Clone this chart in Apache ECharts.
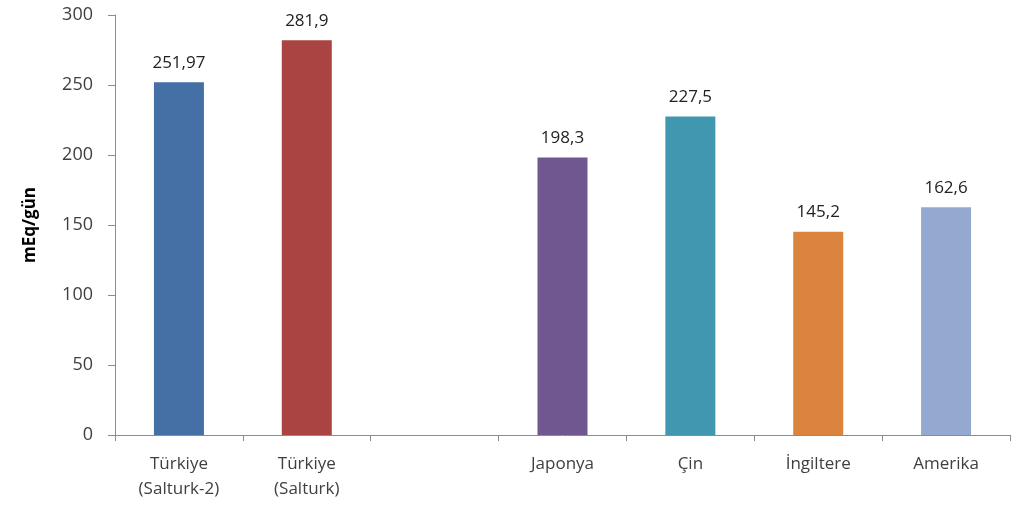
<!DOCTYPE html>
<html>
<head>
<meta charset="utf-8">
<script src="https://cdn.jsdelivr.net/npm/echarts@6/dist/echarts.min.js"></script>
<style>html,body{margin:0;padding:0;background:#fff}#c{width:1031px;height:507px}</style>
</head>
<body>
<div id="c"></div>
<script>
const categories = ['Türkiye\n(Salturk-2)', 'Türkiye\n(Salturk)', '', 'Japonya', 'Çin', 'İngiltere', 'Amerika'];
const values = [251.97, 281.9, null, 198.3, 227.5, 145.2, 162.6];
const yTicks = [0, 50, 100, 150, 200, 250, 300];
const yAxisTitle = 'mEq/gün';

const palette = ['#4470A6', '#A94442', '', '#71578F', '#4197AF', '#DB843D', '#93A9CF'];
const font = 'Open Sans, Noto Sans, sans-serif';

const chart = echarts.init(document.getElementById('c'), null, {renderer: 'canvas'});
chart.setOption({
  animation: false,
  grid: {left: 115, right: 21, top: 15, bottom: 72},
  xAxis: {
    type: 'category',
    data: categories,
    axisLine: {lineStyle: {color: '#8c8c8c', width: 1}},
    axisTick: {show: true, length: 6, lineStyle: {color: '#8c8c8c'}},
    axisLabel: {color: '#404040', fontSize: 17, fontFamily: font, lineHeight: 25, margin: 17}
  },
  yAxis: {
    type: 'value',
    min: yTicks[0],
    max: yTicks[yTicks.length - 1],
    interval: 50,
    name: yAxisTitle,
    nameLocation: 'middle',
    nameGap: 76,
    nameTextStyle: {color: '#000', fontSize: 17, fontWeight: 'bold', fontFamily: font},
    axisLine: {show: true, lineStyle: {color: '#8c8c8c', width: 1}},
    axisTick: {show: true, length: 7, lineStyle: {color: '#8c8c8c'}},
    splitLine: {show: false},
    axisLabel: {color: '#404040', fontSize: 18, fontFamily: font, margin: 22}
  },
  series: [{
    type: 'bar',
    barWidth: 50,
    data: values.map((v, i) => ({value: v, itemStyle: {color: palette[i]}})),
    label: {
      show: true,
      position: 'top',
      distance: 11,
      color: '#222',
      fontSize: 17,
      fontFamily: font,
      formatter: p => p.value == null ? '' : String(p.value).replace('.', ',')
    }
  }]
});
</script>
</body>
</html>
